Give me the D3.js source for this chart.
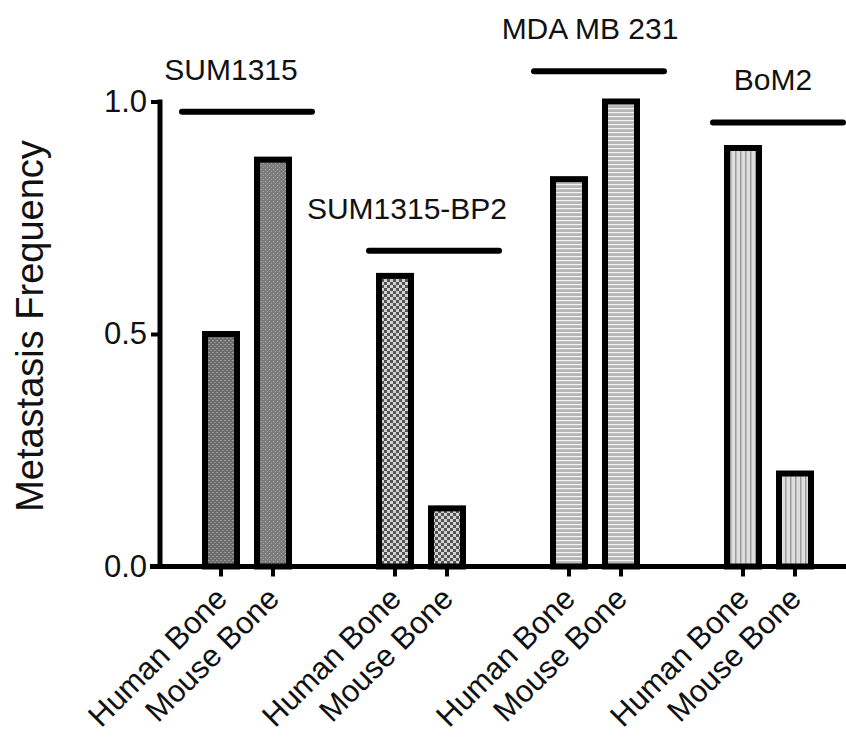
<!DOCTYPE html>
<html lang="en">
<head>
  <meta charset="UTF-8">
  <title>Metastasis Frequency</title>
  <script src="https://cdnjs.cloudflare.com/ajax/libs/d3/7.8.5/d3.min.js"></script>
  <style>
    * { margin: 0; padding: 0; }
    html, body { background-color: #fff; }
    text { font-family: "Liberation Sans", Arial, Helvetica, sans-serif; fill: #111; }
  </style>
</head>
<body>
<script>
  // data
  const groups = ['SUM1315', 'SUM1315-BP2', 'MDA MB 231', 'BoM2']
  const sites = ['Human Bone', 'Mouse Bone']
  const humanBone = [0.5, 0.625, 0.833, 0.9]
  const mouseBone = [0.875, 0.125, 1.0, 0.2]
  const bracketLevel = [0.978, 0.679, 1.065, 0.955]
  const yTicks = [0, 0.5, 1.0]

  const W = 846, H = 740
  const svg = d3.select('body').append('svg')
    .attr('width', W)
    .attr('height', H)

  // fill textures, one per bar (group, site)
  const defs = svg.append('defs')
  const pat = (id, size, bg, draw) => {
    const p = defs.append('pattern')
      .attr('id', id)
      .attr('patternUnits', 'userSpaceOnUse')
      .attr('width', size).attr('height', size)
    p.append('rect').attr('width', size).attr('height', size).attr('fill', bg)
    draw(p)
  }
  pat('p0', 4, '#6c6c6c', p => {
    p.append('rect').attr('x', 0).attr('y', 0).attr('width', 2).attr('height', 1).attr('fill', '#9a9a9a')
    p.append('rect').attr('x', 2).attr('y', 2).attr('width', 2).attr('height', 1).attr('fill', '#8c8c8c')
  })
  pat('p1', 4, '#7c7c7c', p => {
    p.append('rect').attr('x', 1).attr('y', 1).attr('width', 1).attr('height', 1).attr('fill', '#b0b0b0')
    p.append('rect').attr('x', 3).attr('y', 3).attr('width', 1).attr('height', 1).attr('fill', '#a4a4a4')
  })
  pat('p2', 6, '#d2d2d2', p => {
    p.append('rect').attr('x', 0).attr('y', 0).attr('width', 3).attr('height', 3).attr('fill', '#555')
    p.append('rect').attr('x', 3).attr('y', 3).attr('width', 3).attr('height', 3).attr('fill', '#555')
  })
  pat('p3', 4, '#b6b6b6', p => {
    p.append('rect').attr('x', 0).attr('y', 0).attr('width', 4).attr('height', 1.2).attr('fill', '#f2f2f2')
  })
  pat('p4', 5, '#dedede', p => {
    p.append('rect').attr('x', 0).attr('y', 0).attr('width', 1.5).attr('height', 5).attr('fill', '#9c9c9c')
  })
  const fills = [['p0', 'p1'], ['p2', 'p2'], ['p3', 'p3'], ['p4', 'p4']]

  const x0 = d3.scaleBand().domain(groups).range([160, 856])
  const x1 = d3.scaleBand().domain(sites).range([35, 139])
  const y = d3.scaleLinear().domain([0, 1]).range([566.5, 101.5])

  const bars = []
  groups.forEach((g, i) => {
    bars.push({ group: g, gi: i, site: sites[0], si: 0, value: humanBone[i] })
    bars.push({ group: g, gi: i, site: sites[1], si: 1, value: mouseBone[i] })
  })
  const cx = d => x0(d.group) + x1(d.site) + x1.bandwidth() / 2
  const barW = 32

  svg.selectAll('rect.bar').data(bars).join('rect')
    .attr('class', 'bar')
    .attr('x', d => cx(d) - barW / 2)
    .attr('y', d => y(d.value))
    .attr('width', barW)
    .attr('height', d => y(0) - y(d.value))
    .attr('fill', d => `url(#${fills[d.gi][d.si]})`)
    .attr('stroke', '#000')
    .attr('stroke-width', 6)

  // y axis
  const yAxis = svg.append('g').attr('transform', 'translate(160,0)')
    .call(d3.axisLeft(y).tickValues(yTicks).tickFormat(d3.format('.1f')).tickSize(9).tickPadding(4))
  yAxis.select('.domain').remove()
  yAxis.selectAll('.tick line').attr('stroke', '#000').attr('stroke-width', 4)
  yAxis.selectAll('.tick text').attr('font-size', 31).attr('fill', '#111')
    .attr('font-family', '"Liberation Sans", Arial, sans-serif')
  svg.append('line')
    .attr('x1', 160).attr('x2', 160)
    .attr('y1', y(1) - 2).attr('y2', y(0) + 2.5)
    .attr('stroke', '#000').attr('stroke-width', 5)

  // x axis
  svg.append('line')
    .attr('x1', 150).attr('x2', W)
    .attr('y1', y(0)).attr('y2', y(0))
    .attr('stroke', '#000').attr('stroke-width', 5)
  svg.selectAll('line.xtick').data(bars).join('line')
    .attr('class', 'xtick')
    .attr('x1', cx).attr('x2', cx)
    .attr('y1', y(0)).attr('y2', y(0) + 10)
    .attr('stroke', '#000').attr('stroke-width', 4)
  svg.selectAll('text.xlab').data(bars).join('text')
    .attr('class', 'xlab')
    .attr('text-anchor', 'end')
    .attr('font-size', 31)
    .attr('transform', d => `translate(${cx(d) + 8},${y(0) + 34}) rotate(-45)`)
    .text(d => d.site)

  // y label
  svg.append('text')
    .attr('text-anchor', 'middle')
    .attr('font-size', 38)
    .attr('transform', 'translate(43,326) rotate(-90)')
    .text('Metastasis Frequency')

  // group brackets
  const lineShift = [0, 13, 4, 9]
  const labelShift = [-16, -14, -5, 4]
  const gc = g => x0(g) + x0.bandwidth() / 2
  svg.selectAll('line.bracket').data(groups).join('line')
    .attr('class', 'bracket')
    .attr('x1', (g, i) => gc(g) + lineShift[i] - 65)
    .attr('x2', (g, i) => gc(g) + lineShift[i] + 65)
    .attr('y1', (g, i) => y(bracketLevel[i]))
    .attr('y2', (g, i) => y(bracketLevel[i]))
    .attr('stroke', '#000').attr('stroke-width', 6).attr('stroke-linecap', 'round')
  svg.selectAll('text.glab').data(groups).join('text')
    .attr('class', 'glab')
    .attr('text-anchor', 'middle')
    .attr('font-size', 30)
    .attr('x', (g, i) => gc(g) + labelShift[i])
    .attr('y', (g, i) => y(bracketLevel[i]) - 32)
    .text(g => g)
</script>
</body>
</html>
